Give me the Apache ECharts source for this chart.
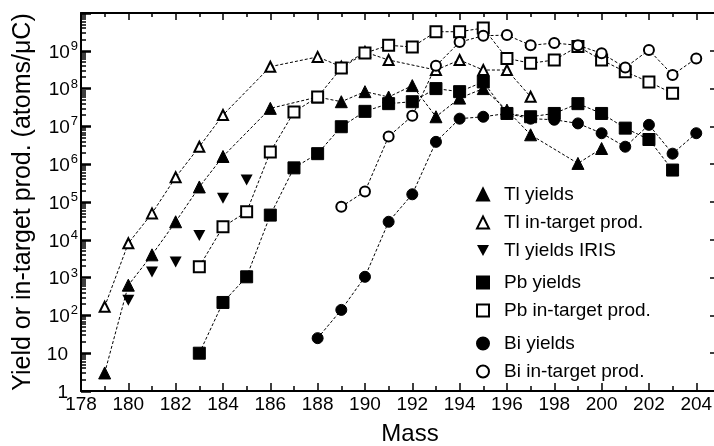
<!DOCTYPE html>
<html><head><meta charset="utf-8">
<script src="https://cdn.jsdelivr.net/npm/echarts@6/dist/echarts.min.js"></script>
<style>html,body{margin:0;padding:0;background:#fff}#c{width:714px;height:446px}</style>
</head><body><div id="c"></div>
<script>
// ---- data ----
var xTickLabels = [178,180,182,184,186,188,190,192,194,196,198,200,202,204];
var yTickLabels = [1,10,1e2,1e3,1e4,1e5,1e6,1e7,1e8,1e9];

var tlYieldMass = [179,180,181,182,183,184,186,188,189,190,191,192,193,194,195,196,197,199,200];
var tlYield     = [3,630,4000,3e4,2.5e5,1.6e6,3e7,6e7,4.5e7,8.3e7,6e7,1.2e8,1.8e7,5.6e7,1e8,2.7e7,6e6,1.05e6,2.6e6];

var tlInMass = [179,180,181,182,183,184,186,188,189,190,191,193,194,195,196,197];
var tlIn     = [170,8100,5e4,4.5e5,2.9e6,2e7,3.8e8,6.9e8,3.8e8,9.3e8,5.7e8,3.1e8,5.7e8,3.1e8,3.1e8,6.1e7];

var tlIrisMass = [180,181,182,183,184,185];
var tlIris     = [250,1400,2600,1.3e4,1.25e5,3.8e5];

var pbYieldMass = [183,184,185,186,187,188,189,190,191,192,193,194,195,196,197,198,199,200,201,202,203];
var pbYield     = [10,220,1050,4.5e4,8e5,1.9e6,9.8e6,2.5e7,4e7,4.5e7,1e8,8.3e7,1.5e8,2.2e7,1.8e7,2.2e7,4e7,2.2e7,9e6,4.5e6,7e5];

var pbInMass = [183,184,185,186,187,188,189,190,191,192,193,194,195,196,197,198,199,200,201,202,203];
var pbIn     = [1950,2.2e4,5.5e4,2.1e6,2.4e7,6e7,3.5e8,8.7e8,1.4e9,1.26e9,3.2e9,3.2e9,4e9,6.3e8,4.7e8,5.7e8,1.3e9,5.7e8,2.8e8,1.5e8,7.5e7];

var biYieldMass = [188,189,190,191,192,193,194,195,196,197,198,199,200,201,202,203,204];
var biYield     = [25,140,1050,3e4,1.6e5,3.9e6,1.6e7,1.8e7,2.2e7,1.6e7,1.5e7,1.2e7,6.6e6,2.9e6,1.1e7,1.9e6,6.6e6];

var biInMass = [189,190,191,192,193,194,195,196,197,198,199,200,201,202,203,204];
var biIn     = [7.5e4,1.9e5,5.4e6,1.9e7,4e8,1.7e9,2.5e9,2.6e9,1.4e9,1.6e9,1.4e9,8.6e8,3.6e8,1.05e9,2.3e8,6.3e8];

var names = ['Tl yields','Tl in-target prod.','Tl yields IRIS','Pb yields','Pb in-target prod.','Bi yields','Bi in-target prod.'];

// ---- build ----
function pairs(xs, ys){ return xs.map(function(x,i){ return [x, ys[i]]; }); }
var FONT = '"Liberation Sans", Arial, Helvetica, sans-serif';
var XMIN = 178, XMAX = 204.75, YMIN = 1, YMAX = 1e10;
var xOdd = []; for (var k = XMIN + 1; k < XMAX; k += 2) xOdd.push(k);
var yDec = []; for (var e = 0; e <= 10; e++) yDec.push(Math.pow(10, e));
var yMinor = []; for (var e2 = 0; e2 < 10; e2++) for (var m = 2; m <= 9; m++) yMinor.push(m * Math.pow(10, e2));
var DOWN = 'path://M0,0 L10,0 L5,9 Z';
var CLEAR = 'rgba(0,0,0,0)';

var lineStyle = {color: '#000', width: 1, type: [3, 2]};
function lineSeries(name, xs, ys, symbol, size){
  return {type: 'line', name: name, data: pairs(xs, ys), symbol: symbol, symbolSize: size,
    lineStyle: lineStyle, itemStyle: {color: '#000', borderColor: '#000', borderWidth: 1, opacity: 1},
    emphasis: {disabled: true}, z: 3};
}
function baseX(pos){
  return {type: 'value', position: pos, min: XMIN, max: XMAX, splitLine: {show: false},
    axisLine: {show: true, onZero: false, lineStyle: {color: CLEAR, width: 1}}, axisTick: {show: false}, axisLabel: {show: false}};
}
function baseY(pos){
  return {type: 'log', logBase: 10, position: pos, min: YMIN, max: YMAX, splitLine: {show: false},
    axisLine: {show: true, onZero: false, lineStyle: {color: CLEAR, width: 1}}, axisTick: {show: false}, axisLabel: {show: false}};
}
var xa0 = baseX('bottom');
xa0.axisLine = {show: true, onZero: false, lineStyle: {color: '#000', width: 2}};
xa0.axisTick = {show: true, inside: true, length: 8, customValues: xTickLabels, lineStyle: {color: '#000', width: 1.5}};
xa0.axisLabel = {show: true, customValues: xTickLabels, margin: 4, color: '#000', fontSize: 19, fontFamily: FONT};
xa0.name = 'Mass'; xa0.nameLocation = 'middle'; xa0.nameGap = 31;
xa0.nameTextStyle = {color: '#000', fontSize: 24, fontFamily: FONT, padding: [0, 0, 0, 25]};
var xa1 = baseX('bottom');
xa1.axisTick = {show: true, inside: true, length: 5, customValues: xOdd, lineStyle: {color: '#000', width: 1.5}};
var xa2 = baseX('top');
xa2.axisLine = {show: true, onZero: false, lineStyle: {color: '#000', width: 2}};
xa2.axisTick = {show: true, inside: true, length: 7, customValues: xTickLabels, lineStyle: {color: '#000', width: 1.5}};
var xa3 = baseX('top');
xa3.axisTick = {show: true, inside: true, length: 4, customValues: xOdd, lineStyle: {color: '#000', width: 1.5}};

var ya0 = baseY('left');
ya0.axisLine = {show: true, onZero: false, lineStyle: {color: '#000', width: 2}};
ya0.axisTick = {show: true, inside: true, length: 10, customValues: yDec, lineStyle: {color: '#000', width: 2.5}};
ya0.axisLabel = {show: true, customValues: yTickLabels, margin: 3, color: '#000', fontFamily: FONT,
  formatter: function(v){
    var p = Math.round(Math.log(v) / Math.LN10);
    if (p === 0) return '{b|1}{g|}';
    if (p === 1) return '{b|10}{g|}';
    return '{b|10}{s|' + p + '}';
  },
  rich: {b: {fontSize: 19, fontFamily: FONT, color: '#000', lineHeight: 22, verticalAlign: 'bottom'},
         s: {fontSize: 13, fontFamily: FONT, color: '#000', lineHeight: 22, verticalAlign: 'top', padding: [0, 0, 0, 1]},
         g: {width: 10}}};
ya0.name = 'Yield or in-target prod. (atoms/\u03bcC)'; ya0.nameLocation = 'middle'; ya0.nameGap = 45;
ya0.nameTextStyle = {color: '#000', fontSize: 25, fontFamily: FONT};
var ya1 = baseY('left');
ya1.axisTick = {show: true, inside: true, length: 5, customValues: yMinor, lineStyle: {color: '#000', width: 1.5}};
var ya2 = baseY('right');
ya2.axisTick = {show: true, inside: true, length: 4, customValues: yDec, lineStyle: {color: '#000', width: 1.5}};

var legendText = {color: '#000', fontSize: 19, lineHeight: 19, fontFamily: FONT, padding: [0, 0, 0, 10]};
function legend(top, data){
  return {orient: 'vertical', left: 476, top: top, padding: 0, itemGap: 9, itemWidth: 12, itemHeight: 12,
    textStyle: legendText, selectedMode: false, data: data};
}

var option = {
  animation: false,
  backgroundColor: '#fff',
  grid: {left: 81, top: 13, width: 633, height: 378, containLabel: false, outerBoundsMode: 'none'},
  xAxis: [xa0, xa1, xa2, xa3],
  yAxis: [ya0, ya1, ya2],
  legend: [
    legend(185, [{name: names[0], icon: 'triangle'}, {name: names[1], icon: 'emptyTriangle'}, {name: names[2], icon: DOWN}]),
    legend(273, [{name: names[3], icon: 'rect'}, {name: names[4], icon: 'emptyRect'}]),
    legend(334, [{name: names[5], icon: 'circle'}, {name: names[6], icon: 'emptyCircle'}])
  ],
  series: [
    lineSeries(names[0], tlYieldMass, tlYield, 'triangle', 12),
    lineSeries(names[1], tlInMass, tlIn, 'emptyTriangle', 10),
    {type: 'scatter', name: names[2], data: pairs(tlIrisMass, tlIris), symbol: DOWN, symbolSize: [12, 11],
      itemStyle: {color: '#000', opacity: 1}, emphasis: {disabled: true}, z: 3},
    lineSeries(names[3], pbYieldMass, pbYield, 'rect', 12),
    lineSeries(names[4], pbInMass, pbIn, 'emptyRect', 11),
    lineSeries(names[5], biYieldMass, biYield, 'circle', 11),
    lineSeries(names[6], biInMass, biIn, 'emptyCircle', 10),
    // empty helpers so the tick-only axes are bound to the grid
    {type: 'line', data: [], xAxisIndex: 1, yAxisIndex: 1, silent: true},
    {type: 'line', data: [], xAxisIndex: 3, yAxisIndex: 2, silent: true}
  ]
};
echarts.init(document.getElementById('c'), null, {renderer: 'canvas'}).setOption(option);
</script></body></html>
